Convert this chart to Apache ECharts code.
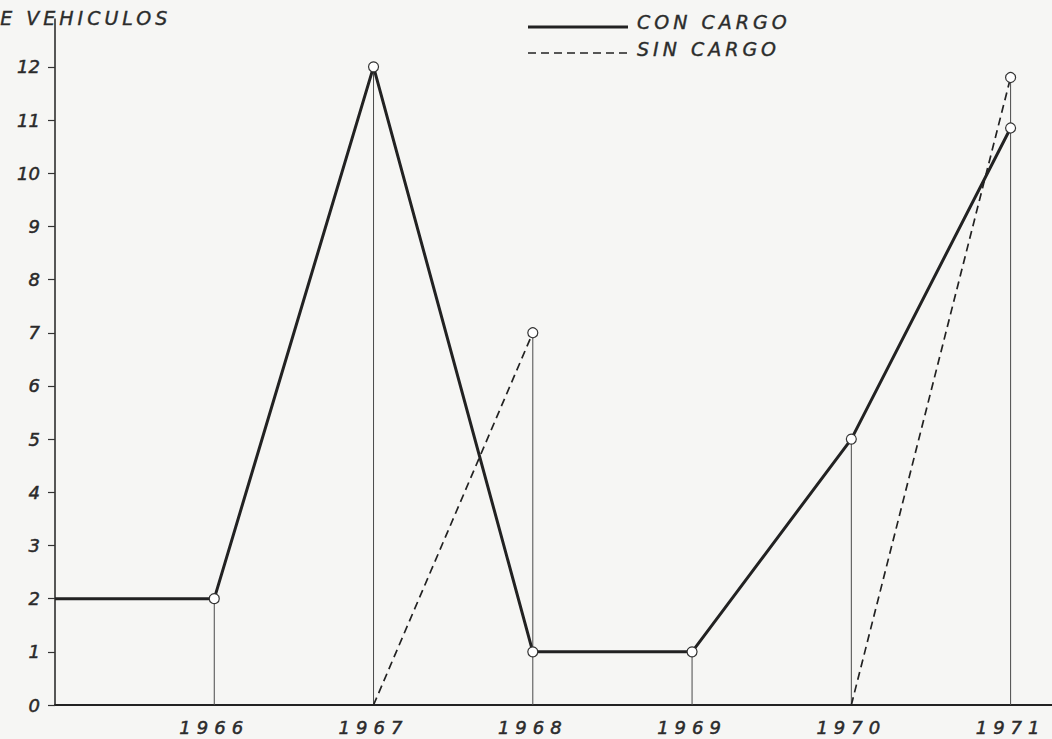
<!DOCTYPE html>
<html><head><meta charset="utf-8">
<script src="https://cdn.jsdelivr.net/npm/echarts@6/dist/echarts.min.js"></script>
<style>
html,body{margin:0;padding:0;background:#f6f6f4;}
#c{width:1052px;height:739px;}
#c text[fill="#2b2b2c"]{letter-spacing:6px;}
#c text[fill="#2b2c2b"]{letter-spacing:4px;}
</style></head><body><div id="c"></div>
<script>
// Data
const years = [1965, 1966, 1967, 1968, 1969, 1970, 1971];
const conCargo = [2, 2, 12, 1, 1, 5, 10.85];
const sinCargo = [null, null, 0, 7, null, 0, 11.8];
const xTickLabels = [1966, 1967, 1968, 1969, 1970, 1971];
const yTickValues = [0, 1, 2, 3, 4, 5, 6, 7, 8, 9, 10, 11, 12];
const seriesNames = ['CON CARGO', 'SIN CARGO'];
const axisTitle = 'E VEHICULOS';

const conData = years.map((y, i) => conCargo[i] == null ? [y, null] :
  (y === years[0] ? { value: [y, conCargo[i]], symbol: 'none' } : { value: [y, conCargo[i]] }));
const sinData = years.map((y, i) => sinCargo[i] == null ? [y, null] :
  (sinCargo[i] > 0 ? { value: [y, sinCargo[i]] } : { value: [y, sinCargo[i]], symbol: 'none' }));
const dropData = years.slice(1).map((y, k) => {
  const i = k + 1;
  return [y, Math.max(conCargo[i] ?? 0, sinCargo[i] ?? 0)];
});

const chart = echarts.init(document.getElementById('c'), null, { renderer: 'svg' });
const font = 'DejaVu Sans';
const txtFont = 'italic 19px "DejaVu Sans"';
chart.setOption({
  backgroundColor: '#f6f6f4',
  animation: false,
  grid: { left: 55, right: 0, top: 19, bottom: 34, containLabel: false, outerBoundsMode: 'none' },
  xAxis: {
    type: 'value', min: 1965, max: 1971.26, interval: 1,
    axisLine: { show: true, lineStyle: { color: '#222', width: 2 } },
    axisTick: { show: false },
    splitLine: { show: false },
    axisLabel: {
      customValues: xTickLabels,
      formatter: v => String(v),
      color: '#2b2b2c', fontSize: 18, lineHeight: 18, fontStyle: 'italic', fontFamily: font, margin: 13,
      textBorderColor: '#2b2b2c', textBorderWidth: 0.5
    }
  },
  yAxis: {
    type: 'value', min: 0, max: 12.9, interval: 1,
    axisLine: { show: true, lineStyle: { color: '#222', width: 1.5 } },
    axisTick: { show: true, customValues: yTickValues, length: 7, lineStyle: { color: '#333', width: 1.2 } },
    splitLine: { show: false },
    axisLabel: {
      customValues: yTickValues,
      formatter: v => String(v),
      color: '#2a2a2a', fontSize: 18, fontStyle: 'italic', fontFamily: font, margin: 15,
      padding: [0, 0, 6, 0],
      textBorderColor: '#2a2a2a', textBorderWidth: 0.5
    }
  },
  graphic: [
    { type: 'text', left: 0, top: 8, z: 10,
      style: { text: axisTitle, font: txtFont, fill: '#2b2c2b', stroke: '#2b2c2b', lineWidth: 0.4 } },
    { type: 'line', shape: { x1: 528, y1: 27, x2: 628, y2: 27 }, style: { stroke: '#222', lineWidth: 3 } },
    { type: 'line', shape: { x1: 528, y1: 53, x2: 628, y2: 53 }, style: { stroke: '#222', lineWidth: 1.6, lineDash: [8, 5] } },
    { type: 'text', x: 637, y: 22, style: { text: seriesNames[0], font: txtFont, fill: '#2b2c2b', stroke: '#2b2c2b', lineWidth: 0.4, verticalAlign: 'middle' } },
    { type: 'text', x: 637, y: 49, style: { text: seriesNames[1], font: txtFont, fill: '#2b2c2b', stroke: '#2b2c2b', lineWidth: 0.4, verticalAlign: 'middle' } }
  ],
  series: [
    { type: 'bar', data: dropData, barWidth: 1, silent: true, z: 1,
      itemStyle: { color: '#4a4a4a' } },
    { type: 'line', name: seriesNames[0], data: conData, z: 3,
      symbol: 'circle', symbolSize: 10, connectNulls: false,
      lineStyle: { color: '#222', width: 3 },
      itemStyle: { color: '#ffffff', borderColor: '#333', borderWidth: 1.2 } },
    { type: 'line', name: seriesNames[1], data: sinData, z: 2,
      symbol: 'circle', symbolSize: 10, connectNulls: false,
      lineStyle: { color: '#222', width: 1.7, type: [8, 5] },
      itemStyle: { color: '#ffffff', borderColor: '#333', borderWidth: 1.2 } }
  ]
});
</script></body></html>
